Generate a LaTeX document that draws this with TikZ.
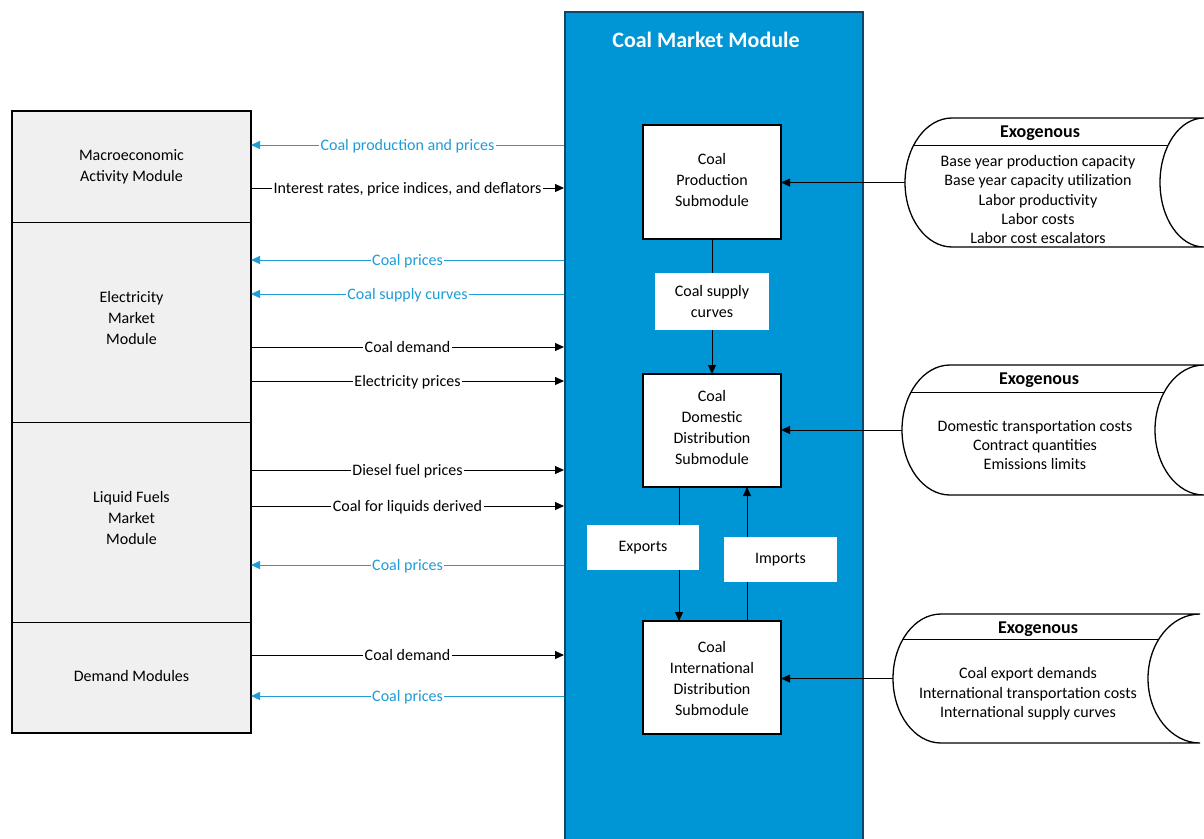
\documentclass[tikz,border=0pt]{standalone}
\usepackage{fontspec}
\setmainfont{Carlito}
\usetikzlibrary{arrows.meta,calc}

\definecolor{cmmblue}{RGB}{0,150,214}
\definecolor{cmmedge}{RGB}{14,70,108}
\definecolor{flowblue}{RGB}{32,156,214}
\definecolor{panelgray}{RGB}{240,240,240}

% horizontal cylinder holding exogenous inputs
% #1 name of left tip, #2 left cap centre x, #3 left cap radius,
% #4 right cap centre x, #5 right cap radius, #6 top y, #7 bottom y, #8 header line y
\newcommand\exocyl[8]{%
  \pgfmathsetmacro\cylmid{(#6+#7)/2}%
  \pgfmathsetmacro\cylry{(#7-#6)/2}%
  \pgfmathsetmacro\cylk{sqrt(1-((#8-\cylmid)/\cylry)^2)}%
  \draw[cylline] (#2,#6) -- (#4,#6)
    .. controls ({#4-0.5523*#5},#6) and ({#4-#5},{\cylmid-0.5523*\cylry}) .. ({#4-#5},\cylmid)
    .. controls ({#4-#5},{\cylmid+0.5523*\cylry}) and ({#4-0.5523*#5},#7) .. (#4,#7)
    -- (#2,#7)
    .. controls ({#2-0.5523*#3},#7) and ({#2-#3},{\cylmid+0.5523*\cylry}) .. ({#2-#3},\cylmid)
    .. controls ({#2-#3},{\cylmid-0.5523*\cylry}) and ({#2-0.5523*#3},#6) .. (#2,#6);
  \draw[thinline] ({#2-#3*\cylk},#8) -- ({#4-#5*\cylk},#8);
  \coordinate (#1) at ({#2-#3},\cylmid);
}

\begin{document}
\begin{tikzpicture}[x=1pt,y=-1pt,
  font=\fontsize{16}{21}\selectfont,
  panel/.style={draw=black, line width=0.9pt, fill=panelgray, inner sep=0pt, outer sep=0pt,
    minimum width=239pt, anchor=north west},
  submod/.style={draw=black, line width=1.4pt, fill=white, inner sep=0pt, outer sep=0pt,
    minimum width=138pt},
  boxtext/.style={align=center, inner sep=0pt},
  tagbox/.style={fill=white, inner sep=0pt, align=center},
  thinline/.style={line width=0.9pt, draw=black},
  cylline/.style={line width=1.3pt, draw=black, fill=white},
  arr/.style={thinline, -{Triangle[length=9pt,width=8pt]}},
  flowout/.style={line width=0.9pt, draw=flowblue, -{Triangle[length=9pt,width=8pt]}},
  flowin/.style={line width=0.9pt, draw=black, -{Triangle[length=9pt,width=8pt]}},
  flowlbl/.style={fill=white, inner xsep=1.5pt, inner ysep=1pt, anchor=base, yshift=-5pt},
  bluelbl/.style={flowlbl, text=flowblue},
  blacklbl/.style={flowlbl, text=black},
  exotitle/.style={font=\fontsize{18}{21}\selectfont\bfseries},
  exobody/.style={align=center, font=\fontsize{16}{19.3}\selectfont}]

\clip (0,0) rectangle (1204,838);
\fill[white] (0,0) rectangle (1204,838);

% central Coal Market Module
\node[draw=cmmedge, line width=2pt, fill=cmmblue, minimum width=298pt, minimum height=860pt,
  anchor=north west, inner sep=0pt] (cmm) at (564,11) {};
\node[text=white, font=\fontsize{22}{25}\selectfont\bfseries] (cmmtitle) at (706,40) {Coal Market Module};

% left column of other NEMS modules
\node[panel, minimum height=111pt] (macro) at (12,111) {};
\node[panel, minimum height=200pt] (elec) at (12,222) {};
\node[panel, minimum height=200pt] (liq) at (12,422) {};
\node[panel, minimum height=111pt] (dem) at (12,622) {};
\draw[line width=1.4pt] (macro.north west) rectangle (dem.south east);
\node[boxtext] (macrotxt) at (macro.center) {Macroeconomic\\Activity Module};
\node[boxtext] (electxt) at ([yshift=4pt]elec.center) {Electricity\\Market\\Module};
\node[boxtext] (liqtxt) at ([yshift=4pt]liq.center) {Liquid Fuels\\Market\\Module};
\node[boxtext] (demtxt) at ([yshift=2pt]dem.center) {Demand Modules};

% submodules
\node[submod, minimum height=114pt] (prod) at (712,182) {};
\node[submod, minimum height=113pt] (dom) at (712,430.5) {};
\node[submod, minimum height=113pt] (intl) at (712,677.5) {};
\node[boxtext] (prodtxt) at ([yshift=2pt]prod.center) {Coal\\Production\\Submodule};
\node[boxtext] (domtxt) at ([yshift=3pt]dom.center) {Coal\\Domestic\\Distribution\\Submodule};
\node[boxtext] (intltxt) at ([yshift=-1pt]intl.center) {Coal\\International\\Distribution\\Submodule};

% flows between submodules
\draw[arr] (prod.south) -- (dom.north);
\node[tagbox, minimum width=114pt, minimum height=57pt] (supply) at (712,301.5) {Coal supply\\curves};

\coordinate (exA) at ([xshift=-33pt]dom.south);
\coordinate (exB) at ([xshift=-33pt]intl.north);
\coordinate (imA) at ([xshift=35pt]intl.north);
\coordinate (imB) at ([xshift=35pt]dom.south);
\draw[arr] (exA) -- (exB);
\draw[arr] (imA) -- (imB);
\node[tagbox, minimum width=112pt, minimum height=45pt] (exports) at (643,547.5) {Exports};
\node[tagbox, minimum width=113pt, minimum height=45pt] (imports) at (780.5,559.5) {Imports};

% flows to and from the left column
\draw[flowout] (cmm.west |- 0,145) -- node[bluelbl] {Coal production and prices} (macro.east |- 0,145);
\draw[flowin] (macro.east |- 0,188) -- node[blacklbl] {Interest rates, price indices, and deflators} (cmm.west |- 0,188);
\draw[flowout] (cmm.west |- 0,260) -- node[bluelbl] {Coal prices} (elec.east |- 0,260);
\draw[flowout] (cmm.west |- 0,294) -- node[bluelbl] {Coal supply curves} (elec.east |- 0,294);
\draw[flowin] (elec.east |- 0,347) -- node[blacklbl] {Coal demand} (cmm.west |- 0,347);
\draw[flowin] (elec.east |- 0,381) -- node[blacklbl] {Electricity prices} (cmm.west |- 0,381);
\draw[flowin] (liq.east |- 0,470) -- node[blacklbl] {Diesel fuel prices} (cmm.west |- 0,470);
\draw[flowin] (liq.east |- 0,506) -- node[blacklbl] {Coal for liquids derived} (cmm.west |- 0,506);
\draw[flowout] (cmm.west |- 0,565) -- node[bluelbl] {Coal prices} (liq.east |- 0,565);
\draw[flowin] (dem.east |- 0,655) -- node[blacklbl] {Coal demand} (cmm.west |- 0,655);
\draw[flowout] (cmm.west |- 0,696) -- node[bluelbl] {Coal prices} (dem.east |- 0,696);

% exogenous inputs
\exocyl{exoA}{952}{47}{1204}{44}{118}{247}{145}
\node[exotitle] (exoAt) at (1040,133) {Exogenous};
\node[exobody] (exoAb) at (1038,199.5) {Base year production capacity\\Base year capacity utilization\\Labor productivity\\Labor costs\\Labor cost escalators};

\exocyl{exoB}{950}{48}{1204}{49}{365}{495}{392}
\node[exotitle] (exoBt) at (1039,380) {Exogenous};
\node[exobody] (exoBb) at (1035,445) {Domestic transportation costs\\Contract quantities\\Emissions limits};

\exocyl{exoC}{941}{48}{1200}{52}{614}{743}{639}
\node[exotitle] (exoCt) at (1038,629) {Exogenous};
\node[exobody] (exoCb) at (1028,694) {Coal export demands\\International transportation costs\\International supply curves};

\draw[arr] (exoA) -- (prod.east |- exoA);
\draw[arr] (exoB) -- (dom.east |- exoB);
\draw[arr] (exoC) -- (intl.east |- exoC);

\end{tikzpicture}
\end{document}
